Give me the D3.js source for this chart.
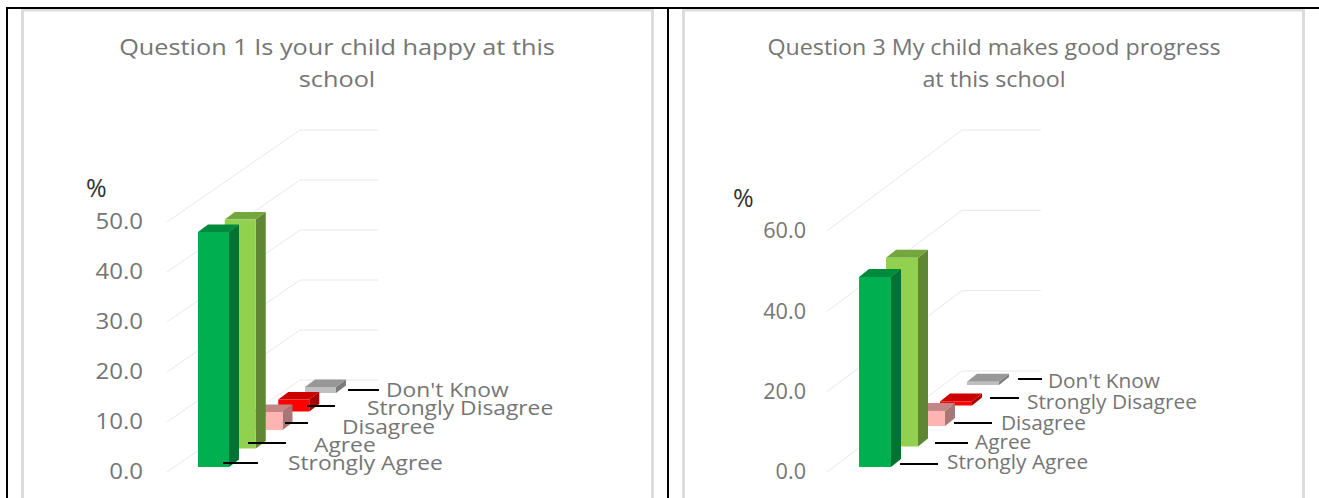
<!DOCTYPE html>
<html>
<head>
<meta charset="utf-8">
<script src="https://cdn.jsdelivr.net/npm/d3@7"></script>
<style>
  html, body { margin: 0; padding: 0; background: #fff; overflow: hidden; }
  svg { display: block; font-family: "Open Sans", sans-serif; }
</style>
</head>
<body>
<svg id="chart" width="1319" height="498"></svg>
<script>
// === Data ===
const categories = ["Strongly Agree", "Agree", "Disagree", "Strongly Disagree", "Don't Know"];
const q1Values = [47, 45.8, 3.6, 2.4, 1.2];
const q3Values = [47.3, 47, 3.75, 1, 0.8];
const q1Ticks = [0, 10, 20, 30, 40, 50];
const q3Ticks = [0, 20, 40, 60];
const q1Title = ["Question 1 Is your child happy at this", "school"];
const q3Title = ["Question 3 My child makes good progress", "at this school"];

// front / side / top for each category
const barColors = [
  ["#00b050", "#007232", "#008a3e"],
  ["#92d050", "#5f8733", "#74a640"],
  ["#ffb3b3", "#a87676", "#c48585"],
  ["#ff0000", "#a60000", "#cc0000"],
  ["#bfbfbf", "#7c7c7c", "#989898"]
];

const svg = d3.select("#chart");

// === Frames ===
function frame(x1, x2) {
  svg.append("path")
    .attr("d", `M${x1},498V10H${x2}V498`)
    .attr("fill", "none")
    .attr("stroke", "#dcdcdc")
    .attr("stroke-width", 3);
}
frame(22.5, 652.5);
frame(683.5, 1303.5);

svg.append("rect").attr("x", 6).attr("y", 7).attr("width", 1313).attr("height", 2).attr("fill", "#000");
svg.append("rect").attr("x", 6).attr("y", 7).attr("width", 2).attr("height", 491).attr("fill", "#000");
svg.append("rect").attr("x", 667).attr("y", 7).attr("width", 2).attr("height", 491).attr("fill", "#000");

function drawChart(cfg) {
  const g = svg.append("g");

  const yScale = d3.scaleLinear()
    .domain([0, d3.max(cfg.ticks)])
    .range([cfg.floorY, cfg.topY]);

  const xBar = d3.scalePoint().domain(categories).range(cfg.barX);
  const baseBar = d3.scalePoint().domain(categories).range(cfg.barBase);

  // Titel (bilden är lite utdragen i sidled)
  g.append("g")
    .selectAll("text")
    .data(cfg.title)
    .join("text")
    .attr("text-anchor", "middle")
    .attr("fill", "#757575")
    .style("font-size", "22.5px")
    .attr("transform", (d, i) => `translate(${cfg.titleX}, ${55 + i * 32}) scale(${cfg.titleStretch}, 1)`)
    .text(d => d);

  // Gridlines
  g.append("g")
    .selectAll("path")
    .data(cfg.ticks)
    .join("path")
    .attr("d", d => {
      const y = yScale(d);
      return `M${cfg.gridX},${y}L${cfg.gridX + cfg.depthX},${y - cfg.depthY}H${cfg.gridEnd}`;
    })
    .attr("fill", "none")
    .attr("stroke", "#e8e8e8")
    .attr("stroke-width", 1);

  // Y-axel
  const axis = g.append("g")
    .attr("transform", `translate(${cfg.axisX}, 0)`)
    .call(d3.axisLeft(yScale).tickValues(cfg.ticks).tickSize(0).tickPadding(0).tickFormat(d3.format(".1f")));
  axis.select(".domain").remove();
  axis.selectAll("text")
    .attr("fill", "#757575")
    .style("font-family", '"Open Sans", sans-serif')
    .style("font-size", "21px")
    .attr("transform", `scale(${cfg.axisStretch}, 1)`);

  g.append("text")
    .attr("x", cfg.percentX)
    .attr("y", cfg.percentY)
    .attr("fill", "#333")
    .style("font-size", "25px")
    .text("%");

  // Staplar, bakifrån och fram
  const w = cfg.barW, dx = 10, dy = cfg.barDepthY;
  const rows = categories.map((c, i) => ({ c, i, v: cfg.values[i] })).reverse();
  const bars = g.append("g").selectAll("g").data(rows).join("g");

  bars.append("path")
    .attr("fill", d => barColors[d.i][1])
    .attr("d", d => {
      const x = xBar(d.c) + w, b = baseBar(d.c), t = b - (yScale(0) - yScale(d.v));
      return `M${x},${b}V${t}L${x + dx},${t - dy}V${b - dy}Z`;
    });
  bars.append("path")
    .attr("fill", d => barColors[d.i][2])
    .attr("d", d => {
      const x = xBar(d.c), t = baseBar(d.c) - (yScale(0) - yScale(d.v));
      return `M${x},${t}L${x + dx},${t - dy}H${x + w + dx}L${x + w},${t}Z`;
    });
  bars.append("rect")
    .attr("fill", d => barColors[d.i][0])
    .attr("x", d => xBar(d.c))
    .attr("y", d => baseBar(d.c) - (yScale(0) - yScale(d.v)))
    .attr("width", w)
    .attr("height", d => yScale(0) - yScale(d.v));

  // Etiketter med linjer
  const labels = g.append("g").selectAll("g").data(categories).join("g");
  labels.append("line")
    .attr("x1", (d, i) => cfg.leaders[i][0])
    .attr("x2", (d, i) => cfg.leaders[i][1])
    .attr("y1", (d, i) => cfg.leaders[i][2])
    .attr("y2", (d, i) => cfg.leaders[i][2])
    .attr("stroke", "#000")
    .attr("stroke-width", 2);
  labels.append("text")
    .attr("transform", (d, i) => `translate(${cfg.labelPos[i][0]}, ${cfg.labelPos[i][1]}) scale(${cfg.labelStretch}, 1)`)
    .attr("dy", ".35em")
    .attr("fill", "#757575")
    .style("font-size", "20px")
    .text(d => d);
}

drawChart({
  title: q1Title, titleX: 337, titleStretch: 1.124,
  values: q1Values, ticks: q1Ticks,
  floorY: 472, topY: 222, axisX: 143, axisStretch: 1.146,
  gridX: 167, gridEnd: 378, depthX: 133, depthY: 92,
  barX: [198, 305], barBase: [467, 393], barW: 31, barDepthY: 7.5,
  percentX: 86, percentY: 197,
  leaders: [[223, 258, 463], [248, 286, 443], [285, 308, 423], [307, 335, 406], [348, 379, 390]],
  labelPos: [[288, 463], [314, 445], [342, 427], [367, 408], [386, 390]], labelStretch: 1.14
});

drawChart({
  title: q3Title, titleX: 994, titleStretch: 1.034,
  values: q3Values, ticks: q3Ticks,
  floorY: 472, topY: 231, axisX: 806, axisStretch: 1.03,
  gridX: 827, gridEnd: 1041, depthX: 135, depthY: 101,
  barX: [859, 967], barBase: [467, 385], barW: 32, barDepthY: 8,
  percentX: 733, percentY: 207,
  leaders: [[900, 938, 464], [935, 968, 443], [954, 992, 423], [990, 1019, 398], [1018, 1042, 379]],
  labelPos: [[947, 462], [975, 442], [1001, 423], [1027, 402], [1048, 381]], labelStretch: 1.04
});
</script>
</body>
</html>
